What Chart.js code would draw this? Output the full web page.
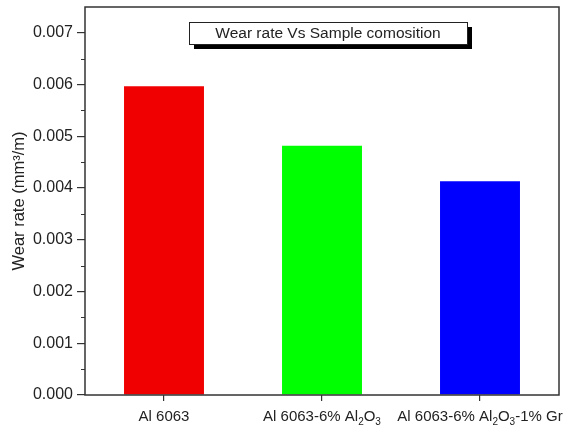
<!DOCTYPE html>
<html>
<head>
<meta charset="utf-8">
<script src="https://cdn.jsdelivr.net/npm/chart.js@4.4.0/dist/chart.umd.min.js"></script>
<style>
html, body { margin: 0; padding: 0; background: #fff; }
#wrap { width: 574px; height: 427px; }
</style>
</head>
<body>
<div id="wrap"><canvas id="wearChart"></canvas></div>
<script>
// chart data
var samples = ['Al 6063', 'Al 6063-6% Al₂O₃', 'Al 6063-6% Al₂O₃-1% Gr'];
var wearRate = [0.00597, 0.00482, 0.00413];
var barColors = ['#f00000', '#00ff00', '#0000ff'];
var yTicks = [0, 0.001, 0.002, 0.003, 0.004, 0.005, 0.006, 0.007];
var yMax = 0.0075;
var chartTitle = 'Wear rate Vs Sample comosition';
var yTitle = 'Wear rate (mm³/m)';

var FONT = '"Liberation Sans", Arial, sans-serif';
var INK = '#222';
var subs = { '₀': '0', '₁': '1', '₂': '2', '₃': '3', '₄': '4', '₅': '5', '₆': '6', '₇': '7', '₈': '8', '₉': '9' };

// split a label into normal / subscript runs
function runsOf(text) {
    var runs = [];
    for (var i = 0; i < text.length; i++) {
        var ch = text[i];
        var sub = subs[ch] !== undefined;
        var c = sub ? subs[ch] : ch;
        if (runs.length && runs[runs.length - 1].sub === sub) runs[runs.length - 1].t += c;
        else runs.push({ t: c, sub: sub });
    }
    return runs;
}

function drawRich(ctx, text, cx, baseline, size) {
    var runs = runsOf(text);
    var subSize = Math.round(size * 0.68);
    var w = 0;
    runs.forEach(function (r) {
        ctx.font = (r.sub ? subSize : size) + 'px ' + FONT;
        r.w = ctx.measureText(r.t).width;
        w += r.w;
    });
    var x = cx - w / 2;
    ctx.textAlign = 'left';
    ctx.textBaseline = 'alphabetic';
    runs.forEach(function (r) {
        ctx.font = (r.sub ? subSize : size) + 'px ' + FONT;
        ctx.fillText(r.t, x, baseline + (r.sub ? 4 : 0));
        x += r.w;
    });
}

// frame, minor ticks, x labels, title box
var decorPlugin = {
    id: 'decor',
    afterDraw: function (chart) {
        var ctx = chart.ctx;
        var a = chart.chartArea;
        var y = chart.scales.y;
        var x = chart.scales.x;
        ctx.save();
        ctx.strokeStyle = '#333';
        ctx.lineWidth = 1.5;
        ctx.strokeRect(a.left, a.top, a.right - a.left, a.bottom - a.top);

        // minor ticks halfway between the labelled ones
        ctx.lineWidth = 1.2;
        ctx.beginPath();
        for (var i = 0; i < yTicks.length; i++) {
            var v = yTicks[i] + (yTicks[1] - yTicks[0]) / 2;
            if (v >= yMax) continue;
            var py = Math.round(y.getPixelForValue(v)) + 0.5;
            ctx.moveTo(a.left - 4, py);
            ctx.lineTo(a.left, py);
        }
        ctx.stroke();

        // category labels with subscripts
        ctx.fillStyle = INK;
        samples.forEach(function (s, i) {
            drawRich(ctx, s, x.getPixelForValue(i), 421, 15);
        });

        // title box with drop shadow
        var bx = 189, by = 22, bw = 278, bh = 22;
        ctx.fillStyle = '#000';
        ctx.fillRect(bx + 5, by + 5, bw, bh);
        ctx.fillStyle = '#fff';
        ctx.fillRect(bx, by, bw, bh);
        ctx.strokeStyle = '#222';
        ctx.lineWidth = 1;
        ctx.strokeRect(bx + 0.5, by + 0.5, bw, bh);
        ctx.fillStyle = INK;
        ctx.font = '15.5px ' + FONT;
        ctx.textAlign = 'center';
        ctx.textBaseline = 'middle';
        ctx.fillText(chartTitle, bx + bw / 2, by + bh / 2 + 1);
        ctx.restore();
    }
};

var ctx = document.getElementById('wearChart');
var wearChart = new Chart(ctx, {
    type: 'bar',
    data: {
        labels: samples,
        datasets: [{
            label: 'Wear rate',
            data: wearRate,
            backgroundColor: barColors,
            borderWidth: 0,
            barPercentage: 0.506,
            categoryPercentage: 1
        }]
    },
    options: {
        responsive: true,
        maintainAspectRatio: false,
        animation: false,
        layout: { padding: { top: 7, right: 15, left: 0, bottom: 0 } },
        plugins: {
            legend: { display: false },
            tooltip: { enabled: false }
        },
        scales: {
            x: {
                grid: {
                    display: true,
                    offset: false,
                    drawOnChartArea: false,
                    drawTicks: true,
                    tickLength: 6,
                    color: '#333',
                    lineWidth: 1.2
                },
                border: { display: false },
                ticks: { display: false },
                afterFit: function (scale) {
                    scale.height = 32;
                    scale.paddingLeft = 0;
                    scale.paddingRight = 0;
                }
            },
            y: {
                min: 0,
                max: yMax,
                afterBuildTicks: function (scale) {
                    scale.ticks = yTicks.map(function (v) { return { value: v }; });
                },
                grid: {
                    display: true,
                    drawOnChartArea: false,
                    drawTicks: true,
                    tickLength: 8,
                    color: '#333',
                    lineWidth: 1.2
                },
                border: { display: false },
                ticks: {
                    padding: 4,
                    color: INK,
                    font: { family: FONT, size: 16 },
                    callback: function (v) { return v.toFixed(3); }
                },
                title: {
                    display: true,
                    text: yTitle,
                    color: INK,
                    font: { family: FONT, size: 16.5 },
                    padding: { top: 10, bottom: 0 }
                },
                afterFit: function (scale) {
                    scale.width = 85;
                    scale.paddingTop = 0;
                    scale.paddingBottom = 0;
                }
            }
        }
    },
    plugins: [decorPlugin]
});
</script>
</body>
</html>
